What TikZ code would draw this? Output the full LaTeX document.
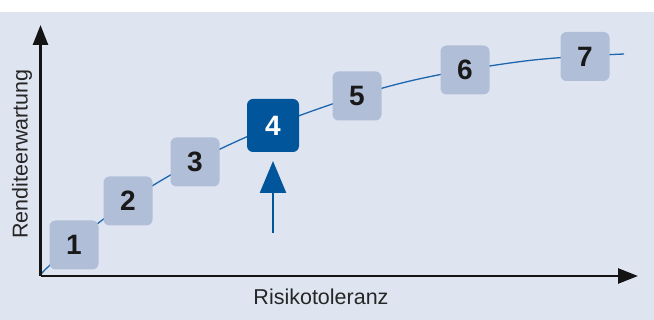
\documentclass[tikz,border=0pt]{standalone}
\usepackage{fontspec}
\setmainfont{Liberation Sans}
\usetikzlibrary{arrows.meta}
\definecolor{bgcol}{RGB}{223,228,241}
\definecolor{boxcol}{RGB}{176,190,216}
\definecolor{darkbox}{RGB}{0,85,155}
\definecolor{curvecol}{RGB}{28,102,174}
\definecolor{axiscol}{RGB}{20,20,20}
\tikzset{
  levelbox/.style={fill=boxcol, rounded corners=6pt, minimum width=49pt, minimum height=49pt, inner sep=0pt,
    text=black!90, font=\fontsize{28}{30}\selectfont\bfseries},
  activebox/.style={levelbox, fill=darkbox, text=white, minimum width=52pt, minimum height=53pt},
  axisline/.style={draw=axiscol, line width=2.5pt, -{Triangle[width=15pt,length=20pt]}},
  axislabel/.style={font=\fontsize{21.5}{24}\selectfont, text=black!85, inner sep=0pt},
}
\begin{document}
\begin{tikzpicture}[x=1pt,y=-1pt]
\useasboundingbox (0,0) rectangle (654,320);
\fill[white] (0,0) rectangle (654,320);
\fill[bgcol] (0,12) rectangle (654,320);
% curve
\coordinate (o) at (40.5,276);
\coordinate (xend) at (638,276);
\coordinate (yend) at (40.5,25);
\coordinate (cend) at (624,54);
\draw[curvecol, line width=1.3pt] plot[smooth, tension=0.6] coordinates
  {(40.5,276) (49,266) (101,221) (162,180) (233,143) (315,110) (410,81) (525,61) (624,54)};
% axes
\draw[axisline] (o) -- (xend);
\draw[axisline] (o) -- (yend);
% boxes
\node[levelbox] (b1) at (74,245) {1};
\node[levelbox] (b2) at (128,201) {2};
\node[levelbox] (b3) at (195,162) {3};
\node[activebox] (b4) at (273,125.5) {4};
\node[levelbox] (b5) at (357,96) {5};
\node[levelbox] (b6) at (465,70) {6};
\node[levelbox] (b7) at (585,56.5) {7};
% arrow
\coordinate (abot) at (273,233);
\coordinate (atip) at (273,161);
\draw[darkbox, line width=2.6pt, -{Triangle[width=26pt,length=32pt]}] (abot) -- (atip);
% labels
\node[axislabel, rotate=90] (ylab) at (22,154) {Renditeerwartung};
\node[axislabel, anchor=base] (xlab) at (321,305) {Risikotoleranz};
\end{tikzpicture}
\end{document}
